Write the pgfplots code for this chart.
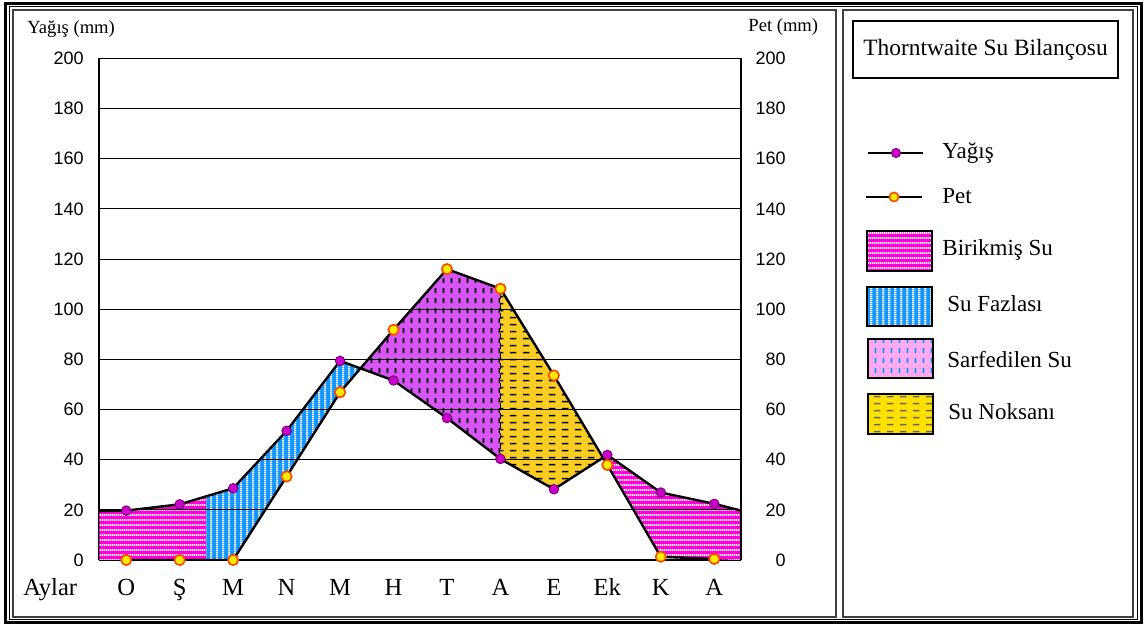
\documentclass[border=0pt]{standalone}
\usepackage{fontspec}
\setmainfont{Liberation Serif}
\newfontfamily\arialf{Liberation Sans}
\usepackage{pgfplots}
\pgfplotsset{compat=1.18}
\usetikzlibrary{patterns}

\definecolor{precipmag}{RGB}{204,0,204}
\definecolor{precipdark}{RGB}{110,0,110}
\definecolor{petyel}{RGB}{255,235,0}
\definecolor{petred}{RGB}{255,70,0}
\definecolor{pinkS}{RGB}{255,0,220}
\definecolor{blueS}{RGB}{20,150,255}
\definecolor{purpS}{RGB}{215,85,245}
\definecolor{goldS}{RGB}{250,205,35}
\definecolor{lpink}{RGB}{255,170,240}
\definecolor{lyel}{RGB}{255,225,0}

% stripe and dash patterns
\pgfdeclarepatternformonly{hstripe}{\pgfqpoint{0pt}{0pt}}{\pgfqpoint{1pt}{2.7pt}}{\pgfqpoint{1pt}{2.7pt}}{
  \pgfpathrectangle{\pgfqpoint{0pt}{0pt}}{\pgfqpoint{1pt}{1pt}}\pgfusepath{fill}}
\pgfdeclarepatternformonly{vstripe}{\pgfqpoint{0pt}{0pt}}{\pgfqpoint{3pt}{1pt}}{\pgfqpoint{3pt}{1pt}}{
  \pgfpathrectangle{\pgfqpoint{0pt}{0pt}}{\pgfqpoint{1.3pt}{1pt}}\pgfusepath{fill}}
\pgfdeclarepatternformonly{vdash}{\pgfqpoint{0pt}{0pt}}{\pgfqpoint{4pt}{5pt}}{\pgfqpoint{4pt}{5pt}}{
  \pgfpathrectangle{\pgfqpoint{1.5pt}{1pt}}{\pgfqpoint{0.9pt}{2.8pt}}\pgfusepath{fill}}
\pgfdeclarepatternformonly{hdash}{\pgfqpoint{0pt}{0pt}}{\pgfqpoint{6.5pt}{3.4pt}}{\pgfqpoint{6.5pt}{3.4pt}}{
  \pgfpathrectangle{\pgfqpoint{1.5pt}{1.3pt}}{\pgfqpoint{3.5pt}{0.85pt}}\pgfusepath{fill}}

\pgfplotsset{
  ticklab/.style={font=\arialf\fontsize{9}{10}\selectfont, anchor=east, inner sep=0pt},
  area/.style={draw=none, fill=#1},
}

\begin{document}
\begin{tikzpicture}
\path[use as bounding box] (0,0) rectangle (573pt,312.5pt);

\begin{axis}[
  at={(49.75pt,32.5pt)}, anchor=south west,
  scale only axis, width=320.75pt, height=250.75pt,
  xmin=-0.5, xmax=11.5, ymin=0, ymax=200,
  axis x line*=bottom, axis y line*=left,
  axis line style={line width=1pt},
  xtick={0,...,11},
  xticklabels={O,Ş,M,N,M,H,T,A,E,Ek,K,A},
  ytick={0,20,...,200},
  major tick length=0pt,
  xticklabel style={font=\fontsize{12.3}{14}\selectfont, anchor=base, yshift=-18pt},
  yticklabel style={ticklab, xshift=-7.75pt},
  /pgf/number format/assume math mode=true,
]
% Birikmis Su (left)
\addplot[area=pinkS, postaction={pattern=hstripe, pattern color=white}]
  coordinates {(-0.5,0) (-0.5,19.5) (0,19.7) (1,22.2) (1.5,25.4) (1.5,0) (-0.5,0)};
% Su Fazlasi
\addplot[area=blueS, postaction={pattern=vstripe, pattern color=white}]
  coordinates {(1.5,0) (1.5,25.4) (2,28.6) (3,51.5) (4,79.4) (4.382,76.4) (4,66.9) (3,33.3) (2,0) (1.5,0)};
% Sarfedilen Su
\addplot[area=purpS, postaction={pattern=vdash, pattern color=black}]
  coordinates {(4.382,76.4) (5,91.8) (6,116) (7,108.2) (7,40.3) (6,56.6) (5,71.6) (4.382,76.4)};
% Su Noksani
\addplot[area=goldS, postaction={pattern=hdash, pattern color=black}]
  coordinates {(7,108.2) (8,73.6) (8.919,40.8) (8,28.2) (7,40.3) (7,108.2)};
% Birikmis Su (right)
\addplot[area=pinkS, postaction={pattern=hstripe, pattern color=white}]
  coordinates {(8.919,40.8) (9,41.9) (10,26.9) (11,22.4) (11.5,19.5) (11.5,0) (11,0.4) (10,1.3) (9,37.9) (8.919,40.8)};

% horizontal grid lines over the areas
\pgfplotsinvokeforeach{20,40,...,200}{
  \addplot[black, line width=0.5pt] coordinates {(-0.5,#1) (11.5,#1)};
}

\addplot[black, line width=0.5pt, densely dashed] coordinates {(7,40.3) (7,108.2)};

% Yagis line
\addplot[black, line width=1.2pt] coordinates {
  (-0.5,19.5) (0,19.7) (1,22.2) (2,28.6) (3,51.5) (4,79.4) (5,71.6)
  (6,56.6) (7,40.3) (8,28.2) (9,41.9) (10,26.9) (11,22.4) (11.5,19.7)};
% Pet line
\addplot[black, line width=1.2pt] coordinates {
  (0,0) (1,0) (2,0) (3,33.3) (4,66.9) (5,91.8) (6,116) (7,108.2)
  (8,73.6) (9,37.9) (10,1.3) (11,0.4)};
% markers
\addplot[only marks, mark=*, mark size=2.4pt,
  mark options={fill=precipmag, draw=precipdark, line width=0.4pt}] coordinates {
  (0,19.7) (1,22.2) (2,28.6) (3,51.5) (4,79.4) (5,71.6)
  (6,56.6) (7,40.3) (8,28.2) (9,41.9) (10,26.9) (11,22.4)};
\addplot[only marks, mark=*, mark size=2.6pt,
  mark options={fill=petyel, draw=petred, line width=0.8pt}] coordinates {
  (0,0) (1,0) (2,0) (3,33.3) (4,66.9) (5,91.8) (6,116) (7,108.2)
  (8,73.6) (9,37.9) (10,1.3) (11,0.4)};
\end{axis}

\begin{axis}[
  at={(49.75pt,32.5pt)}, anchor=south west,
  scale only axis, width=320.75pt, height=250.75pt,
  xmin=-0.5, xmax=11.5, ymin=0, ymax=200,
  axis x line*=bottom, x axis line style={draw=none}, xtick=\empty,
  axis y line*=right,
  axis line style={line width=1pt},
  ytick={0,20,...,200},
  major tick length=0pt,
  yticklabel style={ticklab, xshift=22.5pt},
  /pgf/number format/assume math mode=true,
]
\addplot[draw=none] coordinates {(0,0) (11,200)};
\end{axis}

\begin{scope}[x=0.5pt,y=-0.5pt,yshift=312.5pt]
\draw[line width=1.5pt] (5.5,3.5) rectangle (1141,623);
\draw[line width=0.5pt] (9.5,7) rectangle (1137.5,620);
\draw[line width=0.75pt, black!75] (13,10) rectangle (836,617);
\draw[line width=0.75pt, black!75] (843,10) rectangle (1133,617);
\draw[line width=0.75pt] (853,21) rectangle (1118,78);
\node[font=\fontsize{11.7}{13}\selectfont] at (985.5,50) {Thorntwaite Su Bilançosu};
\node[anchor=base west, inner sep=0pt, font=\fontsize{9.3}{11}\selectfont] at (27,34) {Yağış (mm)};
\node[anchor=base west, inner sep=0pt, font=\fontsize{9.3}{11}\selectfont] at (748,32) {Pet (mm)};
\node[anchor=base west, inner sep=0pt, font=\fontsize{12.3}{14}\selectfont] at (23,596) {Aylar};

% legend
\draw[line width=1.4pt] (868,153) -- (923,153);
\filldraw[fill=precipmag, draw=precipdark, line width=0.4pt] (896,153) circle[radius=2.3pt];
\draw[line width=1.4pt] (866,197) -- (922,197);
\filldraw[fill=petyel, draw=petred, line width=0.8pt] (894,197) circle[radius=2.3pt];

\path[fill=pinkS, postaction={pattern=hstripe, pattern color=white}] (867,231) rectangle (932,271);
\draw[line width=0.75pt] (867,231) rectangle (932,271);
\path[fill=blueS, postaction={pattern=vstripe, pattern color=white}] (867,287) rectangle (932,326);
\draw[line width=0.75pt] (867,287) rectangle (932,326);
\path[fill=lpink, postaction={pattern=vdash, pattern color=blueS}] (868,339) rectangle (933,378);
\draw[line width=0.75pt] (868,339) rectangle (933,378);
\path[fill=lyel, postaction={pattern=hdash, pattern color=black!60}] (868,394) rectangle (933,434);
\draw[line width=0.75pt] (868,394) rectangle (933,434);

\begin{scope}[every node/.style={anchor=base west, inner sep=0pt, font=\fontsize{11.5}{13}\selectfont}]
\node at (942,159) {Yağış};
\node at (942,204) {Pet};
\node at (942,256) {Birikmiş Su};
\node at (947,312) {Su Fazlası};
\node at (947,368) {Sarfedilen Su};
\node at (948,420) {Su Noksanı};
\end{scope}
\end{scope}
\end{tikzpicture}
\end{document}
